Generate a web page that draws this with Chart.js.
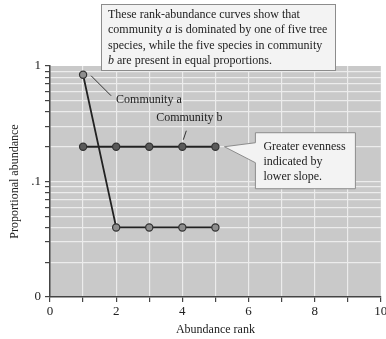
<!DOCTYPE html>
<html>
<head>
<meta charset="utf-8">
<script src="https://cdn.jsdelivr.net/npm/chart.js@4/dist/chart.umd.min.js"></script>
<style>
  html, body { margin: 0; padding: 0; background: #ffffff; }
  #wrap { width: 386px; height: 339px; }
</style>
</head>
<body>
<div id="wrap"><canvas id="c" width="386" height="339"></canvas></div>
<script>
// Rank-abundance data for the two communities
const ranks = [1, 2, 3, 4, 5];
const communityA = [0.84, 0.04, 0.04, 0.04, 0.04];
const communityB = [0.2, 0.2, 0.2, 0.2, 0.2];

// Axis ticks
const xTickValues = [0, 1, 2, 3, 4, 5, 6, 7, 8, 9, 10];
const xLabelValues = [0, 2, 4, 6, 8, 10];
const yTickValues = [0.01, 0.02, 0.03, 0.04, 0.05, 0.06, 0.07, 0.08, 0.09,
                     0.1, 0.2, 0.3, 0.4, 0.5, 0.6, 0.7, 0.8, 0.9, 1];
const yLabelValues = [1, 0.1, 0.01];
const yLabelText = ['1', '.1', '0'];

// Annotation texts
const noteLines = [
  [['These rank-abundance curves show that', false]],
  [['community ', false], ['a', true], [' is dominated by one of five tree', false]],
  [['species, while the five species in community', false]],
  [['b', true], [' are present in equal proportions.', false]]
];
const calloutLines = ['Greater evenness', 'indicated by', 'lower slope.'];
const labelA = 'Community a';
const labelB = 'Community b';

const SERIF = '"Liberation Serif", "Times New Roman", serif';
const near = (a, b) => Math.abs(a - b) < 1e-9;

const plotBackground = {
  id: 'plotBackground',
  beforeDraw(chart) {
    const { ctx, chartArea: a } = chart;
    ctx.save();
    ctx.fillStyle = '#c9c9c9';
    ctx.fillRect(a.left, a.top, a.right - a.left, a.bottom - a.top);
    ctx.restore();
  }
};

const annotations = {
  id: 'annotations',
  afterDraw(chart) {
    const { ctx } = chart;
    const xs = chart.scales.x, ys = chart.scales.y;
    const pA = { x: xs.getPixelForValue(ranks[0]), y: ys.getPixelForValue(communityA[0]) };
    const pB4 = { x: xs.getPixelForValue(ranks[3]), y: ys.getPixelForValue(communityB[3]) };
    const pB5 = { x: xs.getPixelForValue(ranks[4]), y: ys.getPixelForValue(communityB[4]) };

    ctx.save();
    ctx.textBaseline = 'middle';
    ctx.fillStyle = '#222';
    ctx.strokeStyle = '#333';

    // Community a label and leader
    ctx.lineWidth = 1;
    ctx.beginPath();
    ctx.moveTo(pA.x + 8, pA.y + 1);
    ctx.lineTo(pA.x + 28, pA.y + 21);
    ctx.stroke();
    ctx.font = '12px ' + SERIF;
    ctx.textAlign = 'left';
    ctx.fillText(labelA, pA.x + 33, pA.y + 25);

    // Community b label and leader
    ctx.beginPath();
    ctx.moveTo(pB4.x + 4, pB4.y - 16);
    ctx.lineTo(pB4.x + 1, pB4.y - 7);
    ctx.stroke();
    ctx.textAlign = 'center';
    ctx.fillText(labelB, pB4.x + 7, pB4.y - 29);

    // Callout box with pointer
    const bx = pB5.x + 40, by = pB5.y - 14, bw = 100, bh = 56;
    ctx.fillStyle = '#f3f3f3';
    ctx.strokeStyle = '#8c8c8c';
    ctx.beginPath();
    ctx.moveTo(bx, by);
    ctx.lineTo(bx + bw, by);
    ctx.lineTo(bx + bw, by + bh);
    ctx.lineTo(bx, by + bh);
    ctx.lineTo(bx, pB5.y + 16);
    ctx.lineTo(pB5.x + 9, pB5.y);
    ctx.lineTo(bx, pB5.y - 4);
    ctx.closePath();
    ctx.fill();
    ctx.stroke();
    ctx.fillStyle = '#222';
    ctx.textAlign = 'left';
    calloutLines.forEach((t, i) => ctx.fillText(t, bx + 8, pB5.y + i * 15));

    // Explanatory note box at the top
    const nx = 101, ny = 4, nw = 235, nh = 67;
    ctx.fillStyle = '#f3f3f3';
    ctx.fillRect(nx, ny, nw, nh);
    ctx.strokeRect(nx + 0.5, ny + 0.5, nw - 1, nh - 1);
    ctx.fillStyle = '#222';
    noteLines.forEach((segs, i) => {
      let x = nx + 7;
      const y = ny + 11 + i * 15.3;
      segs.forEach(([txt, italic]) => {
        ctx.font = (italic ? 'italic ' : '') + '12px ' + SERIF;
        ctx.fillText(txt, x, y);
        x += ctx.measureText(txt).width;
      });
    });
    ctx.restore();
  }
};

new Chart(document.getElementById('c'), {
  type: 'line',
  data: {
    datasets: [
      {
        label: labelA,
        data: ranks.map((r, i) => ({ x: r, y: communityA[i] })),
        borderColor: '#222',
        borderWidth: 1.8,
        pointRadius: 3.6,
        pointBackgroundColor: '#8e8e8e',
        pointBorderColor: '#333',
        pointBorderWidth: 1.2,
        tension: 0
      },
      {
        label: labelB,
        data: ranks.map((r, i) => ({ x: r, y: communityB[i] })),
        borderColor: '#222',
        borderWidth: 1.8,
        pointRadius: 3.6,
        pointBackgroundColor: '#5a5a5a',
        pointBorderColor: '#333',
        pointBorderWidth: 1.2,
        tension: 0
      }
    ]
  },
  options: {
    responsive: false,
    devicePixelRatio: 1,
    animation: false,
    events: [],
    layout: { padding: { top: 66, right: 3, left: 0, bottom: 0 } },
    plugins: { legend: { display: false }, tooltip: { enabled: false } },
    scales: {
      x: {
        type: 'linear',
        min: 0,
        max: 10,
        afterBuildTicks(scale) { scale.ticks = xTickValues.map(v => ({ value: v })); },
        afterFit(scale) { scale.height = 42; scale.paddingLeft = 0; scale.paddingRight = 0; },
        ticks: {
          autoSkip: false,
          maxRotation: 0,
          padding: 2,
          color: '#222',
          font: { family: SERIF, size: 13 },
          callback: v => (xLabelValues.some(l => near(l, v)) ? String(v) : '')
        },
        grid: {
          color: ctx => (ctx.tick && (near(ctx.tick.value, 0) || near(ctx.tick.value, 10)) ? 'rgba(0,0,0,0)' : '#ececec'),
          lineWidth: 1.2,
          tickColor: '#444',
          tickLength: 5,
          drawTicks: true
        },
        border: { display: true, color: '#444', width: 1.5 },
        title: {
          display: true,
          text: 'Abundance rank',
          color: '#222',
          font: { family: SERIF, size: 12 },
          padding: { top: 0, bottom: 2 }
        }
      },
      y: {
        type: 'logarithmic',
        min: 0.01,
        max: 1,
        afterBuildTicks(scale) { scale.ticks = yTickValues.map(v => ({ value: v })); },
        afterFit(scale) { scale.width = 50; scale.paddingTop = 0; scale.paddingBottom = 0; },
        ticks: {
          autoSkip: false,
          padding: 4,
          color: '#222',
          font: { family: SERIF, size: 13 },
          callback: v => {
            const i = yLabelValues.findIndex(l => near(l, v));
            return i >= 0 ? yLabelText[i] : '';
          }
        },
        grid: {
          color: ctx => (ctx.tick && (near(ctx.tick.value, 1) || near(ctx.tick.value, 0.01)) ? 'rgba(0,0,0,0)' : '#ececec'),
          lineWidth: 1.2,
          tickColor: '#444',
          tickLength: 5,
          drawTicks: true
        },
        border: { display: true, color: '#444', width: 1.5 },
        title: {
          display: true,
          text: 'Proportional abundance',
          color: '#222',
          font: { family: SERIF, size: 12 },
          padding: { top: 8, bottom: 0 }
        }
      }
    }
  },
  plugins: [plotBackground, annotations]
});
</script>
</body>
</html>
